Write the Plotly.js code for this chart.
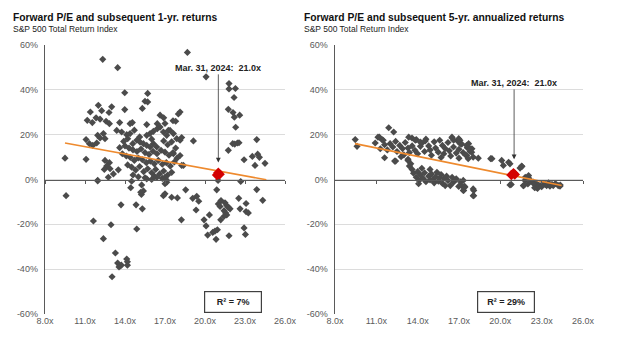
<!DOCTYPE html>
<html>
<head>
<meta charset="utf-8">
<script src="https://cdn.plot.ly/plotly-3.0.1.min.js"></script>
<style>html,body{margin:0;padding:0;background:#fff;}#chart{width:624px;height:349px;}</style>
</head>
<body>
<div id="chart"></div>
<script>
// ---- Tick labels ----
const xTickVals = [8, 11, 14, 17, 20, 23, 26];
const xTickLabels = ["8.0x", "11.0x", "14.0x", "17.0x", "20.0x", "23.0x", "26.0x"];
const yTickVals = [-60, -40, -20, 0, 20, 40, 60];
const yTickLabels = ["-60%", "-40%", "-20%", "0%", "20%", "40%", "60%"];

// ---- Left chart: forward P/E vs subsequent 1-yr return (%) ----
const pe1 = [
 12.33,13.45,18.68,20.08,21.8,21.8,22.28,22.18,21.75,22.1,22.6,22.2,22.3,22.08,22.43,22.55,22.23,23.88,21.75,22.93,23.55,23.95,24.08,23.75,24.5,19.13,18.13,18.0,
 13.98,15.7,15.5,15.7,15.3,12.0,13.0,11.4,12.25,12.8,13.98,11.17,11.55,11.83,12.13,12.58,12.83,13.6,14.38,14.55,15.63,16.63,16.42,13.38,13.75,14.13,14.38,
 11.95,12.38,12.13,12.5,11.08,11.33,11.58,11.88,15.88,16.13,16.43,15.63,16.63,16.88,17.25,
 9.5,11.08,12.5,12.83,12.63,12.88,12.45,13.13,13.5,12.75,11.95,
 17.38,17.63,17.88,18.13,17.13,18.25,18.13,18.25,18.38,17.63,
 14.58,14.88,15.13,15.38,15.63,15.88,16.13,16.38,
 14.0,14.3,14.6,14.9,15.2,15.5,15.8,16.1,16.4,16.7,17.0,17.3,17.6,17.9,
 13.8,14.1,14.4,14.7,15.0,15.3,15.6,15.9,16.2,16.5,16.8,17.1,17.4,17.7,
 14.2,14.5,14.8,15.1,15.4,15.7,16.0,16.3,16.6,16.9,17.2,17.5,
 14.6,15.0,15.5,16.2,16.8,17.0,
 13.6,13.9,14.2,16.9,17.2,17.5,17.8,16.0,15.1,14.7,17.0,17.6,17.8,16.9,20.98,
 9.58,11.95,11.63,12.95,12.38,13.28,13.45,13.63,13.73,13.55,14.13,14.18,14.18,13.03,13.7,14.83,15.3,14.88,14.43,14.5,15.25,15.38,15.23,15.18,
 15.63,16.0,16.38,16.88,17.0,17.13,17.08,17.0,17.5,17.93,18.55,19.08,19.38,19.53,19.33,18.23,19.93,20.33,20.08,20.2,20.58,20.75,20.93,20.83,
 21.18,20.88,21.0,21.2,21.13,21.5,21.63,21.75,21.88,21.43,21.55,21.63,21.43,21.8,22.53,22.63,23.08,23.08,23.25,22.68,22.93,23.03,23.88,24.33
];
const ret1 = [
 53.6,49.9,56.7,45.8,42.8,40.4,40.6,36.6,31.3,29.9,28.7,27.8,23.3,16.0,16.3,16.4,15.8,17.8,13.0,8.8,10.3,11.3,9.9,6.3,7.2,17.2,30.1,29.2,
 38.7,38.4,34.9,34.6,31.7,33.1,32.4,30.1,30.7,29.9,31.2,26.4,25.4,27.5,26.9,26.0,24.9,25.4,24.9,25.4,24.5,28.7,24.9,21.9,21.2,20.0,20.5,
 19.7,20.5,18.5,18.2,17.8,16.0,15.2,16.3,20.5,21.5,22.7,19.7,23.4,21.2,21.9,
 9.5,9.0,8.5,7.5,6.0,4.8,4.5,2.5,4.3,1.0,-0.4,
 21.9,20.5,18.2,17.5,19.7,18.7,10.7,6.3,6.3,11.5,
 16.0,17.5,16.7,16.0,15.2,14.5,16.0,14.5,
 15.0,14.0,13.2,12.5,13.6,12.0,11.2,12.6,11.5,13.0,12.2,10.8,12.0,9.5,
 11.5,10.5,9.8,8.5,9.6,8.8,7.5,8.2,7.0,8.5,6.8,7.5,6.0,7.8,
 6.5,5.5,4.2,5.8,3.5,4.8,3.0,4.5,2.5,3.8,2.0,3.2,
 2.0,1.2,0.8,1.5,0.5,1.0,
 14.2,17.0,18.2,17.2,15.5,16.8,14.0,18.0,19.0,22.0,25.0,26.2,26.0,27.5,-0.4,
 -7.2,-0.6,-18.5,-20.2,-26.4,-32.8,-37.3,-38.5,-38.2,-39.0,-35.5,-38.2,-36.7,-43.4,-11.3,-11.3,-13.1,-22.1,-3.7,-0.8,-2.4,-5.1,-6.7,-5.7,
 0.3,0.0,0.9,-7.2,-6.4,-1.2,0.0,-1.9,-7.9,-8.2,-4.6,-8.4,-7.5,-9.7,-13.6,-18.0,-18.0,-15.8,-20.7,-24.8,-23.6,-23.0,-22.4,-26.7,
 -18.0,-4.6,-10.9,-9.4,-12.0,-10.4,-11.6,-12.4,-13.1,-13.9,-14.9,-15.8,-16.4,-25.1,-8.4,-13.1,-10.7,-14.3,-14.9,-0.9,-21.6,-24.5,-4.5,-9.3
];
const current1X = [20.9, 21.0, 21.1];
const current1Y = [2.0, 3.0, 2.3];
const trend1X = [9.5, 24.6];
const trend1Y = [16.3, -0.1];

// ---- Right chart: forward P/E vs subsequent 5-yr annualized return (%) ----
const pe5 = [
 9.47,9.6,10.92,11.12,11.41,11.9,12.26,11.29,11.6,12.33,11.22,11.5,
 11.6,11.8,12.0,12.2,12.4,12.5,12.7,12.9,13.0,13.1,13.3,13.4,13.6,13.8,13.9,14.0,14.2,14.3,14.5,14.6,14.8,14.9,15.0,15.2,15.3,15.5,15.6,15.8,15.9,16.0,16.2,16.3,16.5,16.6,16.8,16.9,17.0,17.2,17.3,17.5,17.6,17.8,17.0,16.4,15.7,
 12.4,12.8,13.3,13.35,13.59,13.83,14.19,14.55,16.49,16.61,16.98,17.09,17.7,17.94,
 13.4,13.6,13.7,13.9,14.0,14.1,14.2,14.4,14.5,14.6,14.8,14.9,15.0,15.1,15.2,15.3,15.4,15.5,15.6,15.7,15.8,15.9,16.0,16.1,16.2,16.37,16.5,16.6,16.8,16.98,17.1,17.34,17.41,18.07,18.07,14.07,13.5,14.3,14.9,13.3,
 17.07,17.56,17.8,17.92,17.56,17.67,18.03,18.4,19.3,20.1,20.22,20.7,21.55,21.43,20.7,21.67,21.79,22.03,22.39,22.64,22.88,23.12,23.36,23.6,23.84,24.2,24.33,22.6,22.7,
 17.31,17.19,17.43,17.31,18.03,18.03,20.79,21.69,22.42,22.49,22.78,23.26,23.75,24.35,23.0,23.5,24.0,22.2,22.0,
 19.39,20.6,21.57,22.05,21.81
];
const ret5 = [
 17.8,14.8,16.3,18.9,17.8,23.1,21.2,13.7,9.7,8.2,18.9,17.5,
 15.5,13.2,16.0,14.5,17.0,12.5,15.2,13.8,11.0,16.5,14.0,12.0,15.0,13.0,17.8,11.5,14.8,16.2,12.5,18.0,15.0,13.2,10.8,16.8,14.0,12.2,17.5,15.2,11.5,13.8,16.5,12.8,18.5,14.5,11.8,17.2,13.5,15.8,12.0,10.8,14.2,12.5,9.5,10.5,9.8,
 8.2,10.2,9.0,18.9,18.5,17.5,16.7,17.2,18.9,17.5,18.2,16.0,16.0,13.7,
 6.0,4.5,2.8,1.0,3.5,-0.5,2.0,0.5,3.0,-1.0,1.5,-0.2,2.5,0.0,-1.5,1.2,3.2,-0.8,0.8,2.2,-1.8,0.5,-2.7,1.5,-0.5,-2.7,1.0,-1.2,0.3,-3.1,-1.0,-4.9,-3.1,-4.9,-7.2,-1.9,7.0,5.0,4.5,8.5,
 17.5,15.2,13.7,12.2,10.7,9.3,10.0,9.5,9.3,8.5,6.3,7.0,6.0,5.1,-2.4,-2.7,-0.4,1.0,-1.2,-1.9,-2.7,-1.9,-2.7,-3.0,-2.7,-2.7,-3.0,-3.5,-4.0,
 -0.4,-2.7,-3.4,-4.9,-4.2,-7.2,-2.2,-2.8,-1.9,-3.7,-2.7,-2.2,-2.2,-2.5,-3.2,-1.5,-1.8,-0.5,-2.0,
 9.3,7.7,5.8,1.8,1.0
];
const current5X = [20.8, 20.95, 21.05];
const current5Y = [2.0, 2.8, 2.2];
const trend5X = [9.45, 24.45];
const trend5Y = [16.0, -2.7];

const titles = ["Forward P/E and subsequent 1-yr. returns", "Forward P/E and subsequent 5-yr. annualized returns"];
const subtitle = "S&P 500 Total Return Index";
const calloutText = "Mar. 31, 2024:&nbsp; 21.0x";
const calloutPE = 21.0;
const rsq = ["R² = 7%", "R² = 29%"];

const FONT = "Liberation Sans, Arial, sans-serif";
const GRAY = "#4b4b4b";
const RED = "#d40000";
const ORANGE = "#ee8a2e";
const AXIS = "#5a5a5a";

function scat(x, y, xa, ya, color, size) {
  return {x: x, y: y, xaxis: xa, yaxis: ya, type: "scatter", mode: "markers",
    marker: {symbol: "diamond", size: size, color: color, line: {width: 0}},
    hoverinfo: "skip", showlegend: false, cliponaxis: false};
}
function line(x, y, xa, ya) {
  return {x: x, y: y, xaxis: xa, yaxis: ya, type: "scatter", mode: "lines",
    line: {color: ORANGE, width: 1.6}, hoverinfo: "skip", showlegend: false};
}

const data = [
  scat(pe1, ret1, "x", "y", GRAY, 5.5),
  line(trend1X, trend1Y, "x", "y"),
  scat(current1X, current1Y, "x", "y", RED, 8),
  scat(pe5, ret5, "x2", "y2", GRAY, 5.5),
  line(trend5X, trend5Y, "x2", "y2"),
  scat(current5X, current5Y, "x2", "y2", RED, 8),
  {x: [], y: [], xaxis: "x3", yaxis: "y", type: "scatter", showlegend: false},
  {x: [], y: [], xaxis: "x4", yaxis: "y2", type: "scatter", showlegend: false}
];

function xax(domain) {
  return {domain: domain, range: [8, 26], tickvals: xTickVals, ticktext: xTickLabels,
    showgrid: false, zeroline: false, showline: false, ticks: "",
    tickfont: {family: FONT, size: 9, color: AXIS}, fixedrange: true};
}
function yax(anchor) {
  return {anchor: anchor, domain: [0, 1], range: [-60, 60], tickvals: yTickVals, ticktext: yTickLabels,
    showgrid: true, gridcolor: "#dcdcdc", gridwidth: 1, zeroline: false,
    showline: true, linecolor: AXIS, linewidth: 1.3, ticks: "", ticklabelstandoff: 4,
    tickfont: {family: FONT, size: 9, color: AXIS}, fixedrange: true};
}
function zax(over) {
  return {overlaying: over, anchor: "free", position: 0.5, range: [8, 26], tickvals: xTickVals,
    showticklabels: false, showgrid: false, zeroline: false, showline: true, linecolor: AXIS,
    linewidth: 1.3, ticks: "outside", ticklen: 3, tickcolor: AXIS, tickwidth: 1, fixedrange: true};
}

function callout(xa, ya, tipY, textY) {
  return {xref: xa, yref: ya, x: calloutPE, y: tipY, axref: xa, ayref: ya, ax: calloutPE, ay: textY,
    text: "<b>" + calloutText + "</b>", showarrow: true, arrowhead: 2, arrowsize: 1.2, arrowwidth: 0.8,
    arrowcolor: "#333", standoff: 0, startstandoff: 0,
    font: {family: FONT, size: 9, color: "#222"}};
}
function rbox(xa, ya, x, text) {
  return {xref: xa, yref: ya, x: x, y: -54.8, text: "<b>" + text + "</b>", showarrow: false,
    bordercolor: "#404040", borderwidth: 1.2, borderpad: 4, width: 48, height: 12, bgcolor: "#fff",
    font: {family: FONT, size: 9, color: "#222"}};
}

const layout = {
  width: 624, height: 349,
  margin: {l: 45, r: 41, t: 45, b: 35},
  paper_bgcolor: "#fff", plot_bgcolor: "#fff",
  font: {family: FONT},
  showlegend: false,
  xaxis: xax([0, 0.4461]),
  yaxis: yax("x"),
  xaxis2: xax([0.539, 1]),
  yaxis2: yax("x2"),
  xaxis3: zax("x"),
  xaxis4: zax("x2"),
  annotations: [
    {xref: "paper", yref: "paper", x: -0.064, y: 1.101, xanchor: "left", yanchor: "middle", showarrow: false,
     text: "<b>" + titles[0] + "</b>", font: {family: FONT, size: 10.3, color: "#111"}},
    {xref: "paper", yref: "paper", x: -0.064, y: 1.058, xanchor: "left", yanchor: "middle", showarrow: false,
     text: subtitle, font: {family: FONT, size: 8.5, color: "#222"}},
    {xref: "paper", yref: "paper", x: 0.4775, y: 1.101, xanchor: "left", yanchor: "middle", showarrow: false,
     text: "<b>" + titles[1] + "</b>", font: {family: FONT, size: 10.3, color: "#111"}},
    {xref: "paper", yref: "paper", x: 0.4775, y: 1.058, xanchor: "left", yanchor: "middle", showarrow: false,
     text: subtitle, font: {family: FONT, size: 8.5, color: "#222"}},
    callout("x", "y", 7.6, 49.8),
    callout("x2", "y2", 9.0, 43.1),
    rbox("x", "y", 22.1, rsq[0]),
    rbox("x2", "y2", 20.4, rsq[1])
  ]
};

Plotly.newPlot("chart", data, layout, {staticPlot: true, displayModeBar: false});
</script>
</body>
</html>
